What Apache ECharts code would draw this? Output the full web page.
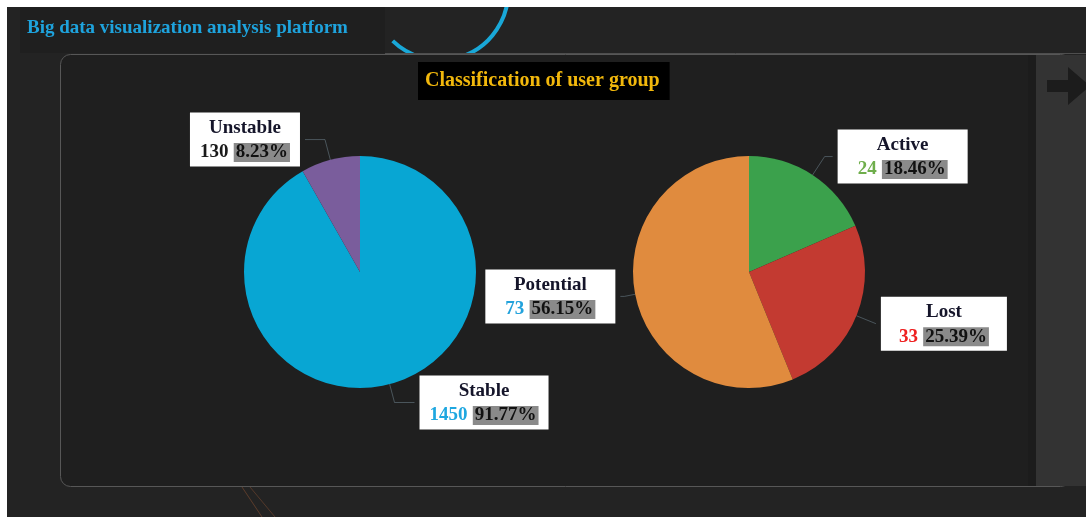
<!DOCTYPE html>
<html>
<head>
    <meta charset="UTF-8">
    <title>Classification of user group</title>
    <style>
        html, body { margin: 0; padding: 0; background: #fff; }
        #main { width: 1086px; height: 517px; }
    </style>
</head>
<body>
<div id="main"></div>
<script src="https://cdn.jsdelivr.net/npm/echarts@6/dist/echarts.min.js"></script>
<script>
    // 左边饼图：稳定 / 不稳定
    var namesA = ['Stable', 'Unstable'];
    var valuesA = [1450, 130];

    // 右边饼图：活跃 / 流失 / 潜在
    var namesB = ['Active', 'Lost', 'Potential'];
    var valuesB = [24, 33, 73];

    // 颜色
    var sliceColorsA = ['#08a6d3', '#7a5d9c'];
    var numColorsA = ['#1ea7e0', '#1a1a1a'];
    var sliceColorsB = ['#3ba14c', '#c33a31', '#e08b3e'];
    var numColorsB = ['#6fae4c', '#ee2020', '#22a2dc'];

    // 标签引导线长度 / 左右内边距
    var labelLayoutA = [{ len: 19, len2: 20, pad: 10 }, { len: 21, len2: 20, pad: 10 }];
    var labelLayoutB = [{ len: 22, len2: 8, pad: 20 }, { len: 21, len2: 0, pad: 18 }, { len: 11, len2: 4, pad: 20 }];

    var serif = '"Liberation Serif", "Times New Roman", serif';
    var W = 1086, H = 517;

    function buildData(names, values, colors, tweaks) {
        return names.map(function (n, i) {
            var t = tweaks[i];
            return {
                name: n,
                value: values[i],
                numKey: 'v' + i,
                itemStyle: { color: colors[i] },
                label: { padding: [3, t.pad, 2, t.pad] },
                labelLine: { length: t.len, length2: t.len2 }
            };
        });
    }

    function buildRich(numColors) {
        var rich = {
            name: { fontFamily: serif, fontWeight: 'bold', fontSize: 19, color: '#15152a', lineHeight: 25, align: 'center' },
            per: { fontFamily: serif, fontWeight: 'bold', fontSize: 19, color: '#111', backgroundColor: '#8a8a8a', lineHeight: 24, padding: [0, 2] },
            sp: { fontSize: 19, lineHeight: 24 }
        };
        numColors.forEach(function (c, i) {
            rich['v' + i] = { fontFamily: serif, fontWeight: 'bold', fontSize: 19, color: c, lineHeight: 24 };
        });
        return rich;
    }

    function pieSeries(center, data, numColors) {
        return {
            type: 'pie',
            center: center,
            radius: 116,
            startAngle: 90,
            clockwise: true,
            avoidLabelOverlap: false,
            emphasis: { disabled: true },
            label: {
                show: true,
                position: 'outside',
                backgroundColor: '#fff',
                formatter: function (p) {
                    return '{name|' + p.name + '}\n{' + p.data.numKey + '|' + p.value + '}{sp| }{per|' + p.percent.toFixed(2) + '%}';
                },
                rich: buildRich(numColors)
            },
            labelLine: {
                show: true,
                lineStyle: { color: 'rgba(110,130,140,0.55)', width: 1 }
            },
            data: data
        };
    }

    var chart = echarts.init(document.getElementById('main'), null, { renderer: 'canvas' });

    var option = {
        backgroundColor: '#232323',
        animation: false,
        title: [{
            text: 'Big data visualization analysis platform',
            left: 27, top: 19,
            padding: 0,
            textStyle: { fontFamily: serif, fontWeight: 'bold', fontSize: 19, color: '#1ea3dd' }
        }, {
            text: 'Classification of user group',
            left: 418, top: 62,
            padding: [9, 10, 9, 7],
            backgroundColor: '#000',
            textStyle: { fontFamily: serif, fontWeight: 'bold', fontSize: 20, color: '#f2b80c' }
        }],
        graphic: [
            // 顶部栏
            { type: 'rect', z: -10, shape: { x: 20, y: 7, width: 365, height: 46 }, style: { fill: '#1f1f1f' } },
            { type: 'arc', z: -9, shape: { cx: 440, cy: -8, r: 68, startAngle: -0.2, endAngle: 2.34, clockwise: true },
              style: { stroke: '#19a8d8', lineWidth: 4, fill: null } },
            { type: 'line', z: -8, shape: { x1: 385, y1: 53.5, x2: W, y2: 53.5 }, style: { stroke: '#4e4e4e', lineWidth: 1 } },
            // 主面板
            { type: 'rect', z: -7, shape: { x: 60.5, y: 54.5, width: 1010, height: 432, r: 10 },
              style: { fill: '#1f1f1f', stroke: '#575757', lineWidth: 1 } },
            // 右侧面板
            { type: 'rect', z: -6, shape: { x: 1028, y: 55, width: 8, height: 431 }, style: { fill: '#1c1c1c' } },
            { type: 'rect', z: -6, shape: { x: 1036, y: 55, width: 50, height: 431 }, style: { fill: '#333333' } },
            { type: 'polygon', z: -5, shape: { points: [[1047, 80], [1068, 80], [1068, 67], [1090, 86], [1068, 105], [1068, 92], [1047, 92]] },
              style: { fill: '#1c1c1c' } },
            // 面板下方的细线
            { type: 'line', z: -8, shape: { x1: 242, y1: 487, x2: 262, y2: 517 }, style: { stroke: 'rgba(200,110,60,0.35)', lineWidth: 1 } },
            { type: 'line', z: -8, shape: { x1: 250, y1: 487, x2: 275, y2: 517 }, style: { stroke: 'rgba(200,110,60,0.3)', lineWidth: 1 } },
            // 白边
            { type: 'rect', z: 10, shape: { x: 0, y: 0, width: W, height: 7 }, style: { fill: '#ffffff' } },
            { type: 'rect', z: 10, shape: { x: 0, y: 0, width: 7, height: H }, style: { fill: '#ffffff' } }
        ],
        series: [
            pieSeries([360, 272], buildData(namesA, valuesA, sliceColorsA, labelLayoutA), numColorsA),
            pieSeries([749, 272], buildData(namesB, valuesB, sliceColorsB, labelLayoutB), numColorsB)
        ]
    };

    chart.setOption(option);
</script>
</body>
</html>
